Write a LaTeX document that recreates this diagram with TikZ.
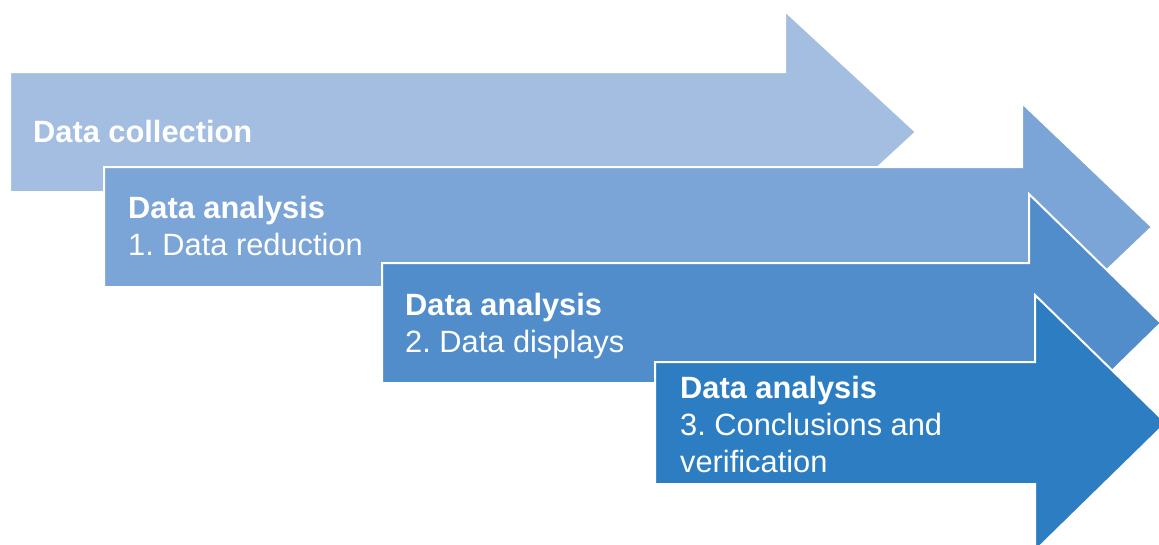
\documentclass[tikz,border=0pt]{standalone}
\usepackage{fontspec}
\setsansfont{Liberation Sans}
\usetikzlibrary{positioning}

\definecolor{collectblue}{RGB}{164,190,226}
\definecolor{reduceblue}{RGB}{123,165,214}
\definecolor{displayblue}{RGB}{80,141,202}
\definecolor{concludeblue}{RGB}{44,125,194}

\newcommand{\stagetext}[1]{\begin{tabular}[t]{@{}l@{}}#1\end{tabular}}

\begin{document}
\frenchspacing
\begin{tikzpicture}[
  x=1pt, y=-1pt,
  font=\sffamily\fontsize{30.8}{37}\selectfont,
  stage/.style={draw=white, line width=2pt, line join=miter},
  txt/.style={anchor=base west, inner sep=0pt, text=white},
]
  \useasboundingbox (0,0) rectangle (1159,544);
  \clip (0,0) rectangle (1159,544);

  % stage arrows, back to front
  \path[stage, fill=collectblue] (10,72) -- (785,72) -- (785,11) -- (916,132)
    -- (785,253) -- (785,192) -- (10,192) -- cycle;
  \path[stage, fill=reduceblue] (104,167) -- (1022,167) -- (1022,103) -- (1152,227)
    -- (1022,351) -- (1022,287) -- (104,287) -- cycle;
  \path[stage, fill=displayblue] (382,263) -- (1029,263) -- (1029,194) -- (1161,323)
    -- (1029,452) -- (1029,383) -- (382,383) -- cycle;
  \path[stage, fill=concludeblue] (655,362) -- (1035,362) -- (1035,295) -- (1166,423)
    -- (1035,551) -- (1035,484) -- (655,484) -- cycle;

  % labels
  \node[txt] (collect) at (33,142) {\textbf{Data collection}};
  \node[txt] (reduce) at (128,218) {\stagetext{\textbf{Data analysis}\\1. Data reduction}};
  \node[txt] (display) at (405,315) {\stagetext{\textbf{Data analysis}\\2. Data displays}};
  \node[txt] (conclude) at (680,398) {\stagetext{\textbf{Data analysis}\\3. Conclusions and\\verification}};
\end{tikzpicture}
\end{document}
